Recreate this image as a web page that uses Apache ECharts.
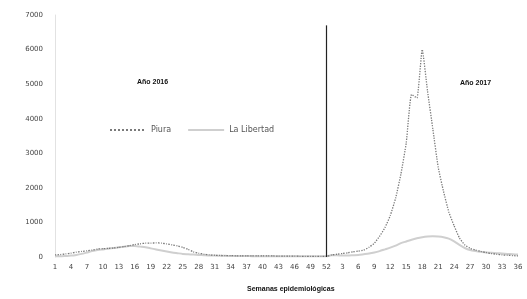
<!DOCTYPE html>
<html>
<head>
<meta charset="utf-8">
<script src="https://cdn.jsdelivr.net/npm/echarts@6/dist/echarts.min.js"></script>
<style>
  html, body { margin: 0; padding: 0; background: #fff; }
  #chart { width: 527px; height: 299px; }
</style>
</head>
<body>
<div id="chart"></div>
<script>
// semanas epidemiológicas: 2016 (1-52) y 2017 (1-36)
const weeks2016 = ['1','2','3','4','5','6','7','8','9','10','11','12','13','14','15','16','17','18','19','20','21','22','23','24','25','26','27','28','29','30','31','32','33','34','35','36','37','38','39','40','41','42','43','44','45','46','47','48','49','50','51','52'];
const weeks2017 = ['1','2','3','4','5','6','7','8','9','10','11','12','13','14','15','16','17','18','19','20','21','22','23','24','25','26','27','28','29','30','31','32','33','34','35','36'];

const piura2016 = [60,70,90,110,140,160,180,200,230,240, 250,260,280,300,330,360,380,400,400,410, 400,380,350,320,280,220,150,110,80,60, 50,45,40,40,35,35,30,30,30,30, 30,30,25,25,25,25,20,20,20,20,20,20];
const piura2017 = [60,80,100,120,150,170,200,280,400,600, 850,1200,1700,2400,3300,4700,4600,6000,4800,3700, 2600,1900,1300,900,550,350,250,200,160,130, 100,80,60,50,40,30];

const libertad2016 = [20,20,30,40,60,90,130,170,200,220, 240,260,280,300,320,320,300,280,250,220, 190,160,130,110,90,80,70,60,50,40, 40,35,35,30,30,30,30,25,25,25, 25,25,20,20,20,20,20,20,20,20,20,20];
const libertad2017 = [50,50,40,40,50,60,80,100,130,170, 220,270,330,400,450,500,540,570,590,600, 590,570,530,450,350,260,200,170,150,130, 120,110,100,90,80,70];

const categories = weeks2016.concat(weeks2017);
const dividerIndex = weeks2016.length - 1; // semana 52 de 2016

let myChart = echarts.init(document.getElementById('chart'));
myChart.setOption({
  animation: false,
  textStyle: { fontFamily: 'DejaVu Sans' },
  grid: { left: 55, right: 9, top: 15, bottom: 42 },
  legend: {
    left: 104,
    top: 121,
    itemWidth: 36,
    itemHeight: 8,
    itemGap: 16,
    itemStyle: { opacity: 0 },
    textStyle: { fontSize: 8, color: '#555' },
    data: ['Piura', 'La Libertad']
  },
  xAxis: {
    type: 'category',
    boundaryGap: false,
    data: categories,
    axisLine: { show: false },
    axisTick: { show: false },
    axisLabel: { interval: 2, fontSize: 7, color: '#444', margin: 7 }
  },
  yAxis: {
    type: 'value',
    min: 0,
    max: 7000,
    interval: 1000,
    axisLine: { show: true, lineStyle: { color: '#e2e2e2' } },
    axisTick: { show: false },
    splitLine: { show: false },
    axisLabel: { fontSize: 7, color: '#444', margin: 12, formatter: v => String(v) }
  },
  graphic: [
    { type: 'text', left: 137, top: 79, style: { text: 'Año 2016', fontSize: 7, fontWeight: 'bold', fill: '#111' } },
    { type: 'text', left: 460, top: 80, style: { text: 'Año 2017', fontSize: 7, fontWeight: 'bold', fill: '#111' } },
    { type: 'text', left: 247, top: 286, style: { text: 'Semanas epidemiológicas', fontSize: 7, fontWeight: 'bold', fill: '#111' } }
  ],
  series: [
    {
      name: 'Piura',
      type: 'line',
      symbol: 'none',
      smooth: 0.15,
      lineStyle: { type: 'dotted', width: 1.3, color: '#7a7a7a' },
      itemStyle: { color: '#7a7a7a' },
      data: piura2016.concat(piura2017),
      z: 3
    },
    {
      name: 'La Libertad',
      type: 'line',
      symbol: 'none',
      smooth: 0.2,
      lineStyle: { width: 2, color: '#cfcfcf' },
      itemStyle: { color: '#cfcfcf' },
      data: libertad2016.concat(libertad2017),
      markLine: {
        silent: true,
        symbol: 'none',
        label: { show: false },
        lineStyle: { type: 'solid', color: '#222', width: 1.2 },
        data: [[{ coord: [dividerIndex, 0] }, { coord: [dividerIndex, 6700] }]]
      },
      z: 2
    }
  ]
});
</script>
</body>
</html>
